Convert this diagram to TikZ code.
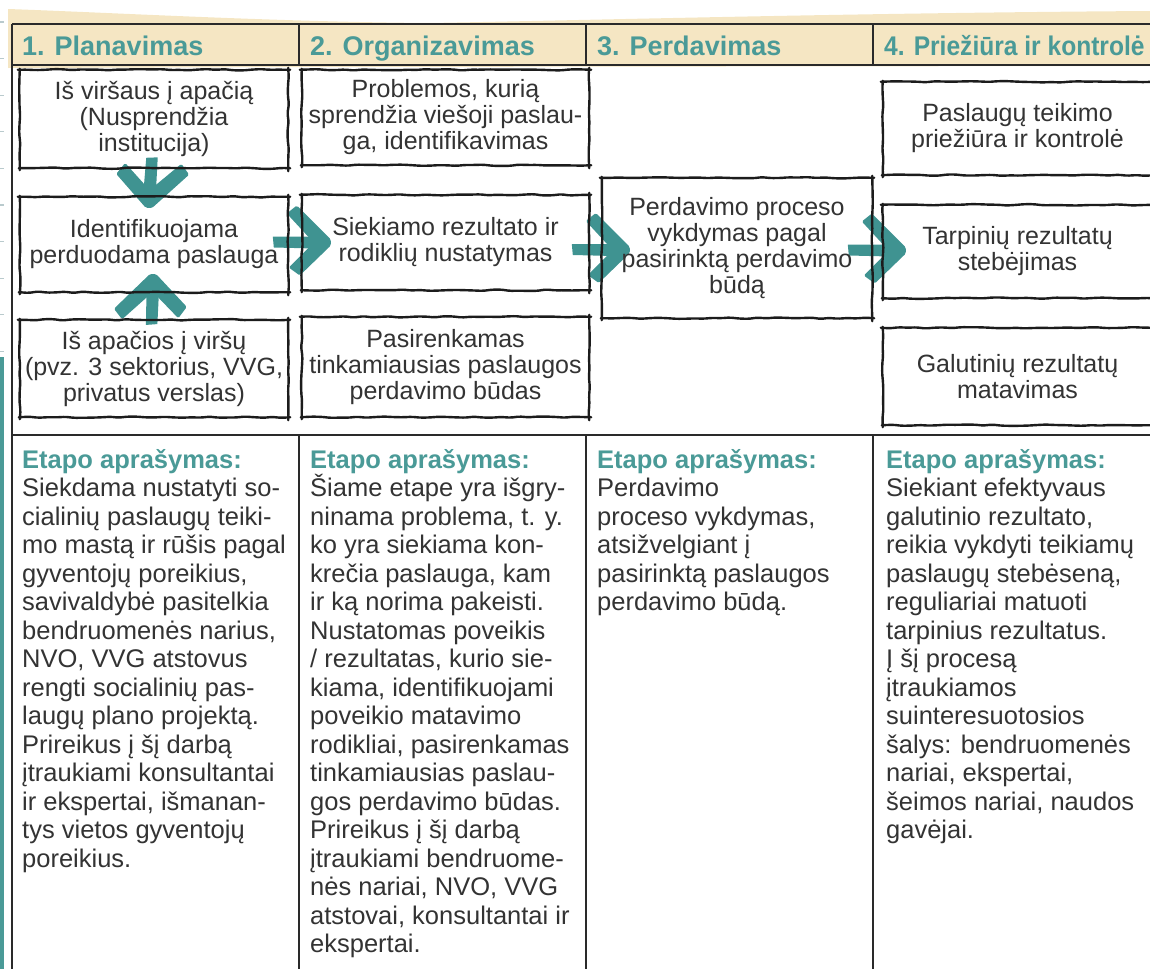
\documentclass[tikz,border=0pt]{standalone}
\usepackage{fontspec}
\usepackage{graphicx}
\setmainfont{Liberation Sans}
\usetikzlibrary{decorations.pathmorphing,calc}

\definecolor{stageteal}{HTML}{4A9A97}
\definecolor{arrowteal}{HTML}{3F9391}
\definecolor{headbeige}{HTML}{F5E6C3}
\definecolor{ink}{HTML}{333333}
\definecolor{gridcol}{HTML}{2A2A2A}
\definecolor{pencil}{HTML}{1C1C1C}
\definecolor{tickcol}{HTML}{B9CACD}

\pgfdeclarelayer{under}
\pgfsetlayers{under,main}

\newcommand\stagehead{\textcolor{stageteal}{\bfseries Etapo aprašymas:}}

\tikzset{
  gridline/.style={draw=gridcol, line width=2.2pt},
  headtext/.style={font=\fontsize{27}{30}\selectfont\bfseries, text=stageteal, inner sep=0pt, anchor=base west},
  panel/.style={font=\fontsize{25}{26}\selectfont, text=ink, align=center, inner sep=0pt},
  desc/.style={font=\fontsize{25.5}{28.5}\selectfont, text=ink, align=left, inner sep=0pt, anchor=north west},
  sketch/.style={draw=pencil, line width=2.4pt, line cap=round, rounded corners=2pt,
    decorate, decoration={random steps, segment length=9pt, amplitude=0.7pt}},
  % brush-stroke arrow pointing along +x, tip at the origin; argument = stem length
  pics/brush/.style={code={
    \fill[arrowteal, rounded corners=1.5pt]
      (-31,-37) -- (3,-3) -- (3,3) -- (-28,33) -- (-39,25) -- (-16,2)
      -- (-17,-3) -- (-41,-29) -- cycle;
    \fill[arrowteal] (-#1,-6) -- (-13,-6) -- (-13,6) -- ({1-#1},5) -- cycle;
  }}
}

% hand-drawn frame around a named node, with small overshoots at the corners
\newcommand\sketchbox[1]{%
  \draw[sketch] ([xshift=-2pt]#1.north west) -- ([xshift=2pt]#1.north east);
  \draw[sketch] ([yshift=2pt]#1.north east) -- ([yshift=-3pt]#1.south east);
  \draw[sketch] ([xshift=2pt]#1.south east) -- ([xshift=-1pt]#1.south west);
  \draw[sketch] ([yshift=-2pt]#1.south west) -- ([yshift=1pt]#1.north west);
}

\begin{document}
\begin{tikzpicture}[x=1pt,y=-1pt]
\pgfmathsetseed{7}
\useasboundingbox (0,0) rectangle (1150,969);
\clip (0,0) rectangle (1150,969);

% page edge behind the sheet
\foreach \k in {0,...,9}
  \draw[tickcol, line width=1.2pt] (0,{22+36.6*\k}) -- (4,{22+36.6*\k});
\fill[stageteal] (0,357) rectangle (4,969);

% beige header band
\fill[headbeige] (8,9) .. controls (120,13) and (280,22) .. (430,23)
  .. controls (600,20) and (850,13) .. (1150,11) -- (1150,66) -- (300,67) -- (8,68) -- cycle;

% table grid
\draw[gridline] (12,24) -- (1150,24);
\draw[gridline] (12,65) -- (1150,65);
\draw[gridline] (12,435) -- (1150,435);
\draw[gridline] (12,24) -- (12,969);
\foreach \cx in {299,586,873} {
  \draw[gridline] (\cx,24) -- (\cx,65);
  \draw[gridline] (\cx,435) -- (\cx,969);
}

% stage headers
\node[headtext] (h1) at (22,55) {1. Planavimas};
\node[headtext] (h2) at (310,55) {2. Organizavimas};
\node[headtext] (h3) at (597,55) {3. Perdavimas};
\node[headtext] (h4) at (884,55) {\scalebox{0.91}[1]{4. Priežiūra ir kontrolė}};

% step boxes
\node[panel, minimum width=268pt, minimum height=98pt] (b11) at (154,119)
  {Iš viršaus į apačią\\(Nusprendžia\\institucija)};
\node[panel, minimum width=268pt, minimum height=95pt] (b12) at (154,244.5)
  {Identifikuojama\\perduodama paslauga};
\node[panel, minimum width=268pt, minimum height=97pt] (b13) at (154,368.5)
  {Iš apačios į viršų\\(pvz. 3 sektorius, VVG,\\privatus verslas)};

\node[panel, minimum width=287pt, minimum height=95pt] (b21) at (445.5,117.5)
  {Problemos, kurią\\sprendžia viešoji paslau-\\ga, identifikavimas};
\node[panel, minimum width=287pt, minimum height=95pt] (b22) at (445.5,242.5)
  {Siekiamo rezultato ir\\rodiklių nustatymas};
\node[panel, minimum width=287pt, minimum height=100pt] (b23) at (445.5,367)
  {Pasirenkamas\\tinkamiausias paslaugos\\perdavimo būdas};

\node[panel, minimum width=270pt, minimum height=140pt] (b31) at (737,248)
  {Perdavimo proceso\\vykdymas pagal\\pasirinktą perdavimo\\būdą};

\node[panel, minimum width=269pt, minimum height=93pt] (b41) at (1017.5,128.5)
  {Paslaugų teikimo\\priežiūra ir kontrolė};
\node[panel, minimum width=269pt, minimum height=93pt] (b42) at (1017.5,251.5)
  {Tarpinių rezultatų\\stebėjimas};
\node[panel, minimum width=269pt, minimum height=97pt] (b43) at (1017.5,376.5)
  {Galutinių rezultatų\\matavimas};

% brush arrows between the steps
\begin{pgfonlayer}{under}
  \pic[rotate=-93, scale=1.04] at ($(b12.north)+(-5,8)$) {brush=46};
  \pic[rotate=89, scale=1.04] at ($(b12.south)+(-1,-15)$) {brush=46};
  \pic at ($(b22.west)+(26,0)$) {brush=55};
  \pic at ($(b31.west)+(25,2)$) {brush=55};
  \pic at ($(b42.west)+(20,-1)$) {brush=55};
\end{pgfonlayer}

\foreach \b in {b11,b12,b13,b21,b22,b23,b31,b41,b42,b43}
  \sketchbox{\b};

% stage descriptions
\node[desc] (d1) at (22,448) {\rule{0pt}{20pt}\stagehead\\
  Siekdama nustatyti so-\\
  cialinių paslaugų teiki-\\
  mo mastą ir rūšis pagal\\
  gyventojų poreikius,\\
  savivaldybė pasitelkia\\
  bendruomenės narius,\\
  NVO, VVG atstovus\\
  rengti socialinių pas-\\
  laugų plano projektą.\\
  Prireikus į šį darbą\\
  įtraukiami konsultantai\\
  ir ekspertai, išmanan-\\
  tys vietos gyventojų\\
  poreikius.};

\node[desc] (d2) at (310,448) {\rule{0pt}{20pt}\stagehead\\
  Šiame etape yra išgry-\\
  ninama problema, t. y.\\
  ko yra siekiama kon-\\
  krečia paslauga, kam\\
  ir ką norima pakeisti.\\
  Nustatomas poveikis\\
  / rezultatas, kurio sie-\\
  kiama, identifikuojami\\
  poveikio matavimo\\
  rodikliai, pasirenkamas\\
  tinkamiausias paslau-\\
  gos perdavimo būdas.\\
  Prireikus į šį darbą\\
  įtraukiami bendruome-\\
  nės nariai, NVO, VVG\\
  atstovai, konsultantai ir\\
  ekspertai.};

\node[desc] (d3) at (597,448) {\rule{0pt}{20pt}\stagehead\\
  Perdavimo\\
  proceso vykdymas,\\
  atsižvelgiant į\\
  pasirinktą paslaugos\\
  perdavimo būdą.};

\node[desc] (d4) at (886,448) {\rule{0pt}{20pt}\stagehead\\
  Siekiant efektyvaus\\
  galutinio rezultato,\\
  reikia vykdyti teikiamų\\
  paslaugų stebėseną,\\
  reguliariai matuoti\\
  tarpinius rezultatus.\\
  Į šį procesą\\
  įtraukiamos\\
  suinteresuotosios\\
  šalys: bendruomenės\\
  nariai, ekspertai,\\
  šeimos nariai, naudos\\
  gavėjai.};
\end{tikzpicture}
\end{document}
